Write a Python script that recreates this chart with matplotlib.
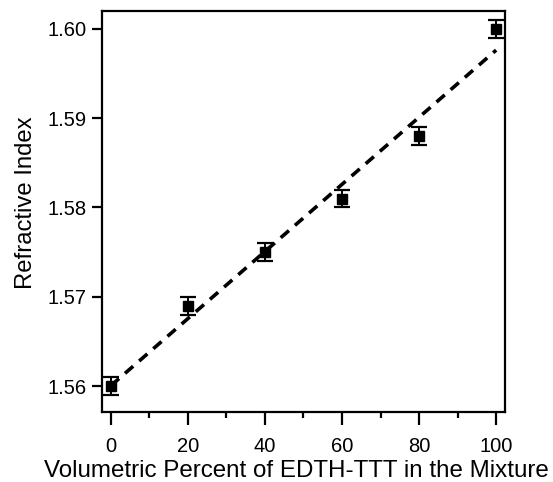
import numpy as np
import matplotlib
matplotlib.use('Agg')
import matplotlib.pyplot as plt
from matplotlib.ticker import MultipleLocator

# volumetric percent vs refractive index
percent = [0, 20, 40, 60, 80, 100]
refr_index = [1.560, 1.569, 1.575, 1.581, 1.588, 1.600]
refr_err = [0.001, 0.001, 0.001, 0.001, 0.001, 0.001]

plt.rcParams['font.family'] = ['Liberation Sans', 'DejaVu Sans']

fig = plt.figure(figsize=(5.53, 4.82), dpi=100)
ax = fig.add_axes([0.1844, 0.1452, 0.7288, 0.832])

# linear fit through the points
slope, icpt = np.polyfit(percent, refr_index, 1)
xfit = np.array([percent[0], percent[-1]])
ax.plot(xfit, slope * xfit + icpt, color='black', lw=2.6, ls=(0, (3, 2.2)))

ax.errorbar(percent, refr_index, yerr=refr_err, fmt='s', color='black',
            ms=7, capsize=6, capthick=1.6, elinewidth=1.4)

ax.set_xlim(-2.3, 102.3)
ax.set_ylim(1.5571, 1.602)
ax.xaxis.set_major_locator(MultipleLocator(20))
ax.xaxis.set_minor_locator(MultipleLocator(10))
ax.yaxis.set_major_locator(MultipleLocator(0.01))
ax.yaxis.set_major_formatter(matplotlib.ticker.FormatStrFormatter('%.2f'))

for s in ax.spines.values():
    s.set_linewidth(1.6)
ax.tick_params(which='major', width=1.6, labelsize=14.5)
ax.tick_params(axis='x', which='major', length=9, pad=9)
ax.tick_params(axis='y', which='major', length=7, pad=4)
ax.tick_params(which='minor', length=4.5, width=1.6)

ax.set_xlabel('Volumetric Percent of EDTH-TTT in the Mixture', fontsize=17.4)
ax.xaxis.set_label_coords(0.4826, -0.12)
ax.set_ylabel('Refractive Index', fontsize=17.2)
ax.yaxis.set_label_coords(-0.162, 0.522)

fig.savefig('out.png', dpi=100)
